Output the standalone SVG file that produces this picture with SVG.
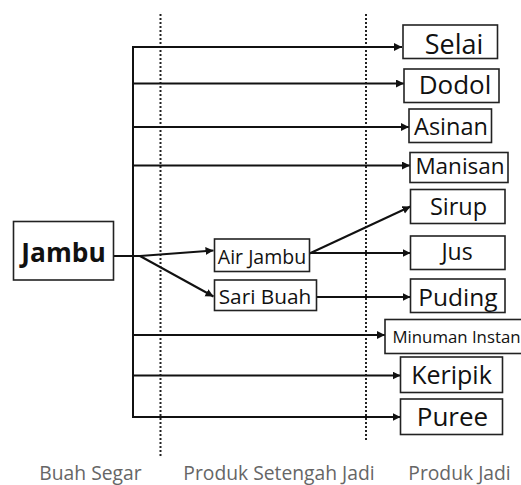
<svg xmlns="http://www.w3.org/2000/svg" width="521" height="485" viewBox="0 0 521 485">
<defs>
<marker id="ah" markerUnits="userSpaceOnUse" markerWidth="10" markerHeight="10" refX="8" refY="4" orient="auto">
<path d="M0,0 L8,4 L0,8 z" fill="#111"/>
</marker>
<style>
.box{fill:#fff;stroke:#222;stroke-width:1.6}
.t{font-family:"Open Sans","Noto Sans",sans-serif;fill:#111}
.lbl{font-family:"Open Sans","Noto Sans",sans-serif;font-weight:400;fill:#666;font-size:19.3px}
.ln{stroke:#111;stroke-width:2;fill:none}
.ar{stroke:#111;stroke-width:2;fill:none;marker-end:url(#ah)}
.dot{stroke:#222;stroke-width:2;stroke-dasharray:2 2;fill:none}
</style>
</defs>
<rect width="521" height="485" fill="#fff"/>
<g id="dividers">
<line class="dot" x1="160.5" y1="14" x2="160.5" y2="456"/>
<line class="dot" x1="366" y1="14" x2="366" y2="441"/>
</g>
<g id="connectors">
<polyline class="ln" points="133,417 133,47"/>
<line class="ar" x1="132" y1="47" x2="402" y2="47"/>
<line class="ar" x1="133" y1="83.5" x2="404" y2="83.5"/>
<line class="ar" x1="133" y1="127" x2="409" y2="127"/>
<line class="ar" x1="133" y1="165.5" x2="410" y2="165.5"/>
<line class="ar" x1="133" y1="335" x2="385" y2="335"/>
<line class="ar" x1="133" y1="375.5" x2="400.5" y2="375.5"/>
<line class="ar" x1="132" y1="417" x2="400.5" y2="417"/>
<polyline class="ln" points="113,256 140,256"/>
<line class="ar" x1="140" y1="256" x2="213.5" y2="250.5"/>
<line class="ar" x1="140" y1="256" x2="213.5" y2="296.5"/>
<line class="ar" x1="309.5" y1="253.5" x2="410.5" y2="206.5"/>
<line class="ar" x1="309.5" y1="253" x2="410.5" y2="253"/>
<line class="ar" x1="316.5" y1="297" x2="410.5" y2="297"/>
</g>
<g id="jambu"><rect class="box" x="13.5" y="221.5" width="100" height="58.5"/><text class="t" x="63.5" y="262" font-size="26.3" font-weight="700" text-anchor="middle">Jambu</text></g>
<g id="air-jambu"><rect class="box" x="214.5" y="239" width="95" height="32.5"/><text class="t" x="262" y="263.5" font-size="19.5" text-anchor="middle">Air Jambu</text></g>
<g id="sari-buah"><rect class="box" x="214.5" y="280" width="102" height="30.5"/><text class="t" x="265" y="303.5" font-size="20.8" text-anchor="middle">Sari Buah</text></g>
<g id="selai"><rect class="box" x="403" y="25" width="94.5" height="33.5"/><text class="t" x="454" y="54" font-size="27" text-anchor="middle">Selai</text></g>
<g id="dodol"><rect class="box" x="404" y="69" width="95" height="33.5"/><text class="t" x="455" y="94" font-size="26" text-anchor="middle">Dodol</text></g>
<g id="asinan"><rect class="box" x="409" y="109" width="82.5" height="33.5"/><text class="t" x="451" y="135" font-size="23.5" text-anchor="middle">Asinan</text></g>
<g id="manisan"><rect class="box" x="410" y="152.5" width="98" height="30"/><text class="t" x="460" y="173.5" font-size="22.5" text-anchor="middle">Manisan</text></g>
<g id="sirup"><rect class="box" x="410.5" y="189.5" width="94.5" height="34"/><text class="t" x="458.5" y="215" font-size="23.5" text-anchor="middle">Sirup</text></g>
<g id="jus"><rect class="box" x="410.5" y="236" width="94.5" height="33.5"/><text class="t" x="457" y="260" font-size="23" text-anchor="middle">Jus</text></g>
<g id="puding"><rect class="box" x="410.5" y="279" width="94.5" height="33.5"/><text class="t" x="458" y="306" font-size="24.5" text-anchor="middle">Puding</text></g>
<g id="minuman-instan"><rect class="box" x="385" y="319.5" width="145" height="34"/><text class="t" x="392.5" y="343" font-size="16.8">Minuman Instan</text></g>
<g id="keripik"><rect class="box" x="400.5" y="357" width="102" height="35.5"/><text class="t" x="451.5" y="384" font-size="25" text-anchor="middle">Keripik</text></g>
<g id="puree"><rect class="box" x="400.5" y="399" width="102" height="35.5"/><text class="t" x="452.5" y="426" font-size="26" text-anchor="middle">Puree</text></g>
<g id="labels">
<text class="lbl" x="90.5" y="480" text-anchor="middle">Buah Segar</text>
<text class="lbl" x="279" y="480" text-anchor="middle">Produk Setengah Jadi</text>
<text class="lbl" x="459.5" y="480" text-anchor="middle">Produk Jadi</text>
</g>
</svg>
